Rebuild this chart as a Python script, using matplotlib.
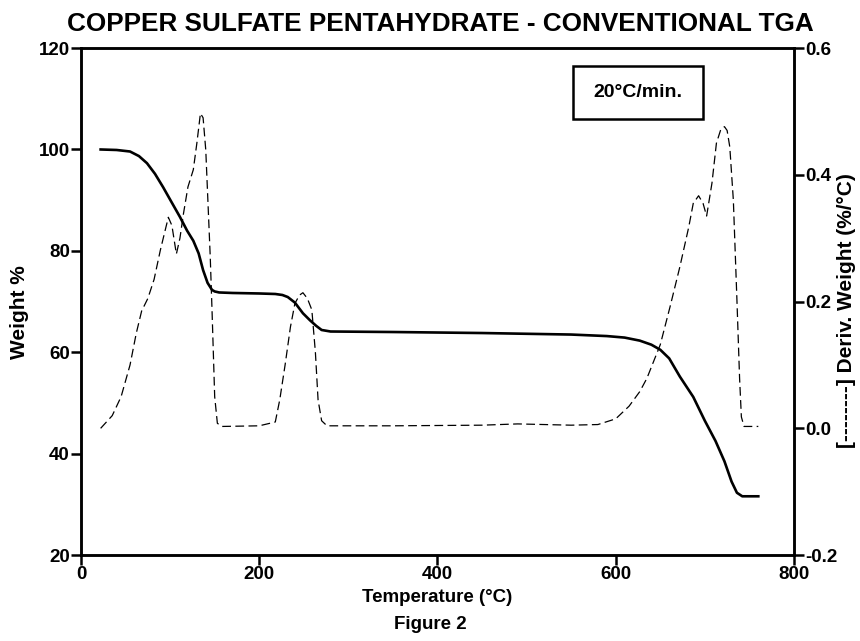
import matplotlib
matplotlib.use("agg")
import matplotlib.pyplot as plt
from matplotlib.patches import Rectangle

# TGA weight curve (solid), temperature in degC vs weight %
temp_w = [22, 40, 55, 65, 74, 83, 92, 101, 111, 119, 126, 132, 137, 142, 147,
          150, 155, 170, 200, 218, 226, 232, 240, 249, 257, 264, 270, 280,
          350, 450, 550, 590, 610, 627, 640, 650, 660, 672, 687, 700, 712,
          722, 730, 736, 742, 760]
weight = [100.0, 99.9, 99.6, 98.7, 97.3, 95.2, 92.6, 89.8, 86.7, 84.0, 82.0,
          79.5, 76.2, 73.7, 72.3, 72.0, 71.8, 71.7, 71.6, 71.5, 71.3, 70.9,
          69.8, 67.7, 66.3, 65.2, 64.4, 64.1, 64.0, 63.8, 63.5, 63.2, 62.9,
          62.3, 61.5, 60.5, 58.8, 55.2, 51.2, 46.5, 42.5, 38.5, 34.5, 32.3,
          31.6, 31.6]

# derivative weight curve (dashed), %/degC
temp_d = [22, 35, 45, 55, 62, 68, 75, 82, 89, 94, 98, 102, 107, 111, 115,
          120, 126, 130, 134, 137, 140, 145, 147, 150, 153, 158, 200, 218,
          223, 229, 235, 240, 245, 249, 254, 259, 263, 266, 270, 276, 350,
          450, 490, 550, 580, 600, 615, 627, 635, 650, 661, 672, 682, 687,
          693, 698, 702, 708, 713, 718, 722, 725, 728, 732, 736, 739, 741,
          744, 760]
deriv = [0.0, 0.02, 0.05, 0.10, 0.15, 0.185, 0.205, 0.235, 0.281, 0.31,
         0.333, 0.32, 0.275, 0.30, 0.339, 0.381, 0.408, 0.45, 0.497, 0.49,
         0.439, 0.271, 0.187, 0.05, 0.008, 0.003, 0.004, 0.010, 0.045, 0.10,
         0.160, 0.197, 0.210, 0.214, 0.205, 0.187, 0.12, 0.045, 0.012, 0.004,
         0.004, 0.005, 0.007, 0.005, 0.006, 0.015, 0.035, 0.058, 0.079, 0.132,
         0.192, 0.255, 0.318, 0.355, 0.367, 0.355, 0.335, 0.387, 0.450, 0.472,
         0.476, 0.470, 0.444, 0.360, 0.203, 0.079, 0.018, 0.003, 0.003]

x_ticks = [0, 200, 400, 600, 800]
w_ticks = [20, 40, 60, 80, 100, 120]
d_ticks = [-0.2, 0.0, 0.2, 0.4, 0.6]

plt.rcParams["font.family"] = ["Liberation Sans", "DejaVu Sans"]
plt.rcParams["font.weight"] = "bold"

fig = plt.figure(figsize=(8.6, 6.41), dpi=100)
ax = fig.add_axes([0.0942, 0.134, 0.829, 0.791])
ax2 = ax.twinx()

ax.plot(temp_w, weight, color="black", lw=1.9, zorder=3)
ax2.plot(temp_d, deriv, color="black", lw=0.9, ls=(0, (7, 3.5)))

ax.set_xlim(0, 800)
ax.set_ylim(20, 120)
ax2.set_ylim(-0.2, 0.6)
ax.set_xticks(x_ticks)
ax.set_yticks(w_ticks)
ax2.set_yticks(d_ticks)
ax.set_xticklabels([str(t) for t in x_ticks])
ax.set_yticklabels([str(t) for t in w_ticks])
ax2.set_yticklabels([f"{t:.1f}" for t in d_ticks])

for a in (ax, ax2):
    for s in a.spines.values():
        s.set_linewidth(1.8)
ax.tick_params(axis="both", direction="out", length=7, width=1.8,
               labelsize=13.5, pad=1)
ax2.tick_params(axis="y", direction="out", length=7, width=1.8,
                labelsize=13.5, pad=1)

ax.set_xlabel("Temperature (°C)", fontsize=13.5, fontweight="bold", labelpad=4)
ax.set_ylabel("Weight %", fontsize=15, fontweight="bold")
ax.yaxis.set_label_coords(-0.073, 0.48)
ax2.set_ylabel("[--------] Deriv. Weight (%/°C)", fontsize=15,
               fontweight="bold", rotation=90, va="center")
ax2.yaxis.set_label_coords(1.074, 0.483)

fig.text(0.512, 0.962, "COPPER SULFATE PENTAHYDRATE - CONVENTIONAL TGA",
         ha="center", va="center", fontsize=18.8, fontweight="bold")
fig.text(0.5, 0.026, "Figure 2", ha="center", va="center", fontsize=13.5,
         fontweight="bold")

# heating rate box
ax.add_patch(Rectangle((0.690, 0.860), 0.182, 0.1045, transform=ax.transAxes,
                       fc="white", ec="black", lw=1.8, zorder=4))
ax.text(0.781, 0.912, "20°C/min.", transform=ax.transAxes, ha="center",
        va="center", fontsize=14, fontweight="bold", zorder=5)

fig.savefig("out.png", dpi=100)
